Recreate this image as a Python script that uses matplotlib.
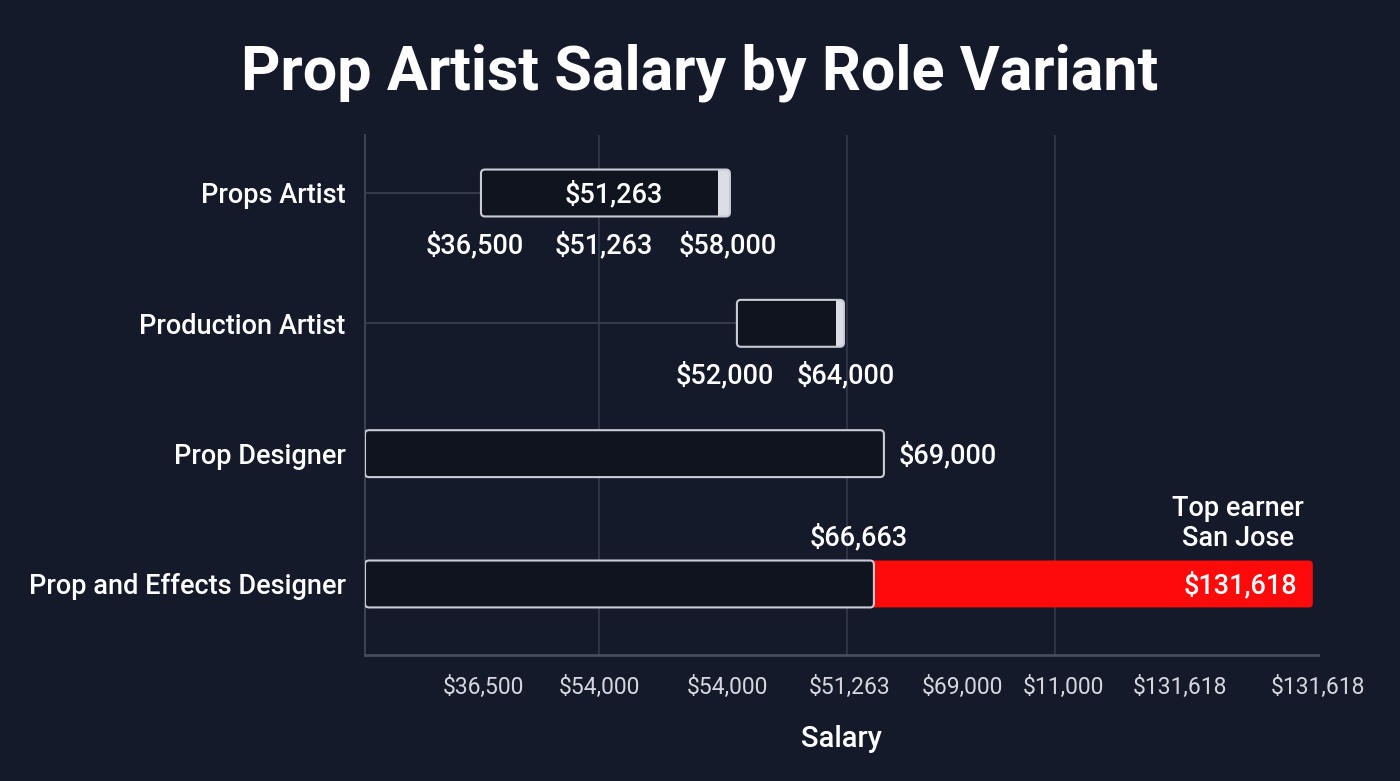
import matplotlib.pyplot as plt
from matplotlib.patches import FancyBboxPatch, Rectangle

plt.rcParams['font.family'] = ['Roboto', 'DejaVu Sans']

# data (x in axis salary units)
roles = ["Props Artist", "Production Artist", "Prop Designer", "Prop and Effects Designer"]
range_low = [16100, 51630, 0, 0]
range_high = [50660, 66490, 72040, 70650]
cap_start = [49000, 65380, None, None]
whisker_from = [0, 0, None, None]
top_value = 131580  # red "top earner" bar end

# text labels
inside_label = "$51,263"
below_labels = [["$36,500", "$51,263", "$58,000"], ["$52,000", "$64,000"]]
below_label_x = [[15300, 33200, 50300], [49900, 66800]]
designer_label = "$69,000"
ped_label = "$66,663"
top_label = "$131,618"
top_note = "Top earner\nSan Jose"

tick_pos = [16500, 32500, 50300, 67300, 82900, 97000, 113100, 132300]
tick_labels = ["$36,500", "$54,000", "$54,000", "$51,263", "$69,000", "$11,000", "$131,618", "$131,618"]
grid_x = [32500, 66900, 95800]

BG = "#141a29"
BOX_FACE = "#10141f"
EDGE = "#c9ccd4"
CAP = "#dcdee5"
GRID = "#343a4b"
RED = "#fe0a0a"
TXT = "#ffffff"

fig = plt.figure(figsize=(14, 7.81), dpi=100)
fig.patch.set_facecolor(BG)
ax = fig.add_axes([365 / 1400, 1 - 655 / 781, (1318 - 365) / 1400, (655 - 135) / 781])
ax.set_facecolor(BG)
ax.set_xlim(0, 132300)
ax.set_ylim(3.545, -0.445)

h = 0.36
px_x = 132300 / 953
px_y = 1 / 130.3
r = 4 * px_x
asp = (4 * px_y) / r


def rbox(x0, x1, yc, **kw):
    p = FancyBboxPatch((x0, yc - h / 2), x1 - x0, h,
                       boxstyle=f"round,pad=0,rounding_size={r}",
                       mutation_aspect=asp, **kw)
    ax.add_patch(p)
    return p


for gx in grid_x:
    ax.axvline(gx, color=GRID, lw=1.2, zorder=0)

for i, role in enumerate(roles):
    lo, hi = range_low[i], range_high[i]
    if whisker_from[i] is not None:
        ax.plot([whisker_from[i], lo], [i, i], color=GRID, lw=1.5, zorder=1)
    if i == 3:
        rbox(lo + 2000, top_value, i, facecolor=RED, edgecolor="none", zorder=2)
    rbox(lo, hi, i, facecolor=BOX_FACE, edgecolor="none", zorder=3)
    if cap_start[i] is not None:
        # light end cap inside the box
        rbox(cap_start[i] - r, hi, i, facecolor=CAP, edgecolor="none", zorder=3.1)
        ax.add_patch(Rectangle((cap_start[i] - 2 * r, i - h / 2), 2 * r, h,
                               facecolor=BOX_FACE, edgecolor="none", zorder=3.2))
    rbox(lo, hi, i, facecolor="none", edgecolor=EDGE, lw=1.5, zorder=4)

vfs = 19.5
fw = "medium"
dy = 0.015  # nudge text down a little
# Props Artist
ax.text((range_low[0] + cap_start[0]) / 2 + 2000, 0 + dy, inside_label, color=TXT, fontsize=vfs,
        fontweight=fw, ha="center", va="center", zorder=5)
for row, (labs, xs) in enumerate(zip(below_labels, below_label_x)):
    for lab, x in zip(labs, xs):
        ax.text(x, row + 0.385 + dy, lab, color=TXT, fontsize=vfs, fontweight=fw,
                ha="center", va="center", zorder=5, clip_on=False)
ax.text(range_high[2] + 2000, 2 + dy, designer_label, color=TXT, fontsize=vfs, fontweight=fw,
        ha="left", va="center")
ax.text(range_high[3] - 2050, 3 - 0.37 + dy, ped_label, color=TXT, fontsize=vfs, fontweight=fw,
        ha="center", va="center")
ax.text(top_value - 2100, 3 + dy, top_label, color=TXT, fontsize=vfs, fontweight=fw,
        ha="right", va="center", zorder=5)
ax.text(top_value - 1200, 3 - 0.48 + dy, top_note, color=TXT, fontsize=vfs, fontweight=fw,
        ha="right", va="center", multialignment="center", linespacing=1.15)

ax.set_yticks(range(len(roles)))
ax.set_yticklabels(roles, color=TXT, fontsize=19.5, fontweight=fw)
ax.set_xticks(tick_pos)
ax.set_xticklabels(tick_labels, color="#d4d7de", fontsize=16.5)
ax.tick_params(axis="both", length=0)
ax.tick_params(axis="x", pad=15)
ax.tick_params(axis="y", pad=14)

for s in ["top", "right"]:
    ax.spines[s].set_visible(False)
ax.spines["left"].set_color("#3a4152")
ax.spines["bottom"].set_color("#454c5d")
ax.spines["left"].set_linewidth(1.5)
ax.spines["bottom"].set_linewidth(2)

ax.set_xlabel("Salary", color=TXT, fontsize=21, fontweight="medium", labelpad=19)

fig.text(0.5, 1 - 73 / 781, "Prop Artist Salary by Role Variant", color=TXT, fontsize=44,
         fontweight="bold", ha="center", va="center")

fig.savefig("out.png", dpi=100, facecolor=BG)
